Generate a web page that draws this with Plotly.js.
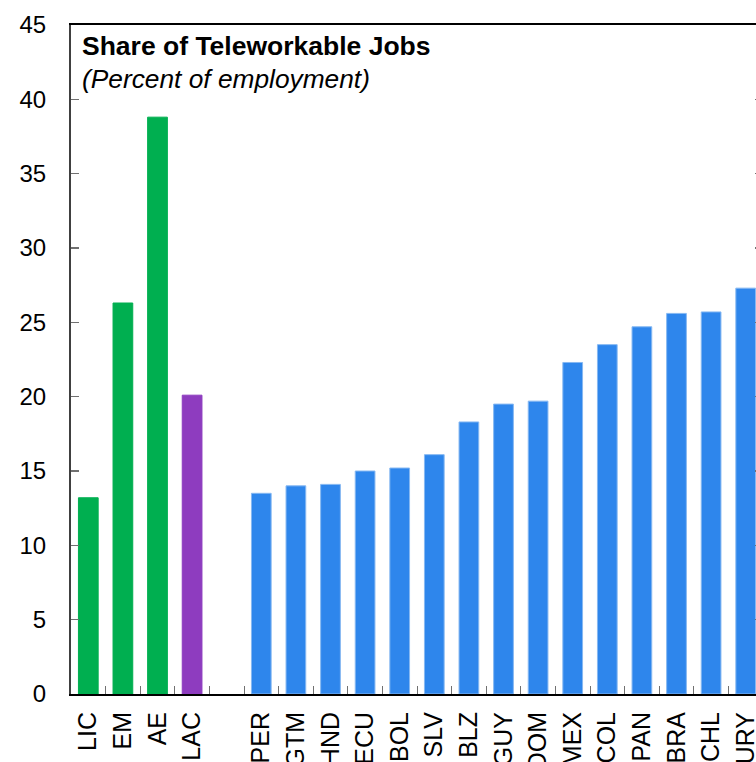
<!DOCTYPE html>
<html>
<head>
<meta charset="utf-8">
<script src="https://cdn.plot.ly/plotly-3.0.1.min.js"></script>
<style>
html,body{margin:0;padding:0;overflow:hidden;background:#fff;}
#chart{width:780px;height:800px;}
</style>
</head>
<body>
<div id="chart"></div>
<script>
// Data
const categories = ["LIC","EM","AE","LAC"," ","PER","GTM","HND","ECU","BOL","SLV","BLZ","GUY","DOM","MEX","COL","PAN","BRA","CHL","URY"];
const shares = [13.2,26.3,38.8,20.1,null,13.5,14.0,14.1,15.0,15.2,16.1,18.3,19.5,19.7,22.3,23.5,24.7,25.6,25.7,27.3];
const groups = ["world","world","world","region","none","country","country","country","country","country","country","country","country","country","country","country","country","country","country","country"];
const yTicks = [0,5,10,15,20,25,30,35,40,45];

const fillByGroup = {world:"#00AF50", region:"#8E3CBF", country:"#2E86EC", none:"#ffffff"};
const edgeByGroup = {world:"#00AF50", region:"#8E3CBF", country:"#86B8F2", none:"#ffffff"};

const trace = {
  type: "bar",
  x: categories,
  y: shares,
  marker: {
    color: groups.map(g => fillByGroup[g]),
    line: {color: groups.map(g => edgeByGroup[g]), width: 1}
  },
  hoverinfo: "x+y"
};

const layout = {
  width: 780,
  height: 800,
  margin: {l: 71, r: 17, t: 24.6, b: 106.4, pad: 0},
  paper_bgcolor: "#ffffff",
  plot_bgcolor: "#ffffff",
  font: {family: "Liberation Sans, Arial, sans-serif", size: 24, color: "#000"},
  showlegend: false,
  bargap: 0.43,
  xaxis: {
    type: "category",
    categoryorder: "array",
    categoryarray: categories,
    tickangle: -90,
    ticks: "inside",
    tickson: "boundaries",
    ticklen: 8,
    tickcolor: "#707070",
    tickwidth: 1,
    showline: true,
    linecolor: "#000",
    linewidth: 2,
    mirror: true,
    showgrid: false,
    zeroline: false,
    ticklabelstandoff: 6,
    tickfont: {size: 25, color: "#000"}
  },
  yaxis: {
    range: [0, 45],
    tickvals: yTicks,
    ticktext: yTicks.map(String),
    ticks: "inside",
    ticklen: 8,
    tickcolor: "#707070",
    tickwidth: 1.5,
    showline: true,
    linecolor: "#404040",
    linewidth: 2,
    mirror: "ticks",
    showgrid: false,
    zeroline: false,
    ticklabelstandoff: 18,
    tickfont: {size: 24, color: "#000"}
  },
  annotations: [
    {
      text: "<b>Share of Teleworkable Jobs</b>",
      xref: "paper", yref: "paper",
      x: 0.0137, y: 0.968,
      xanchor: "left", yanchor: "middle",
      showarrow: false,
      font: {size: 26.5, color: "#000"}
    },
    {
      text: "<i>(Percent of employment)</i>",
      xref: "paper", yref: "paper",
      x: 0.0137, y: 0.920,
      xanchor: "left", yanchor: "middle",
      showarrow: false,
      font: {size: 26.3, color: "#000"}
    }
  ]
};

Plotly.newPlot("chart", [trace], layout, {displayModeBar: false, staticPlot: true});
</script>
</body>
</html>
